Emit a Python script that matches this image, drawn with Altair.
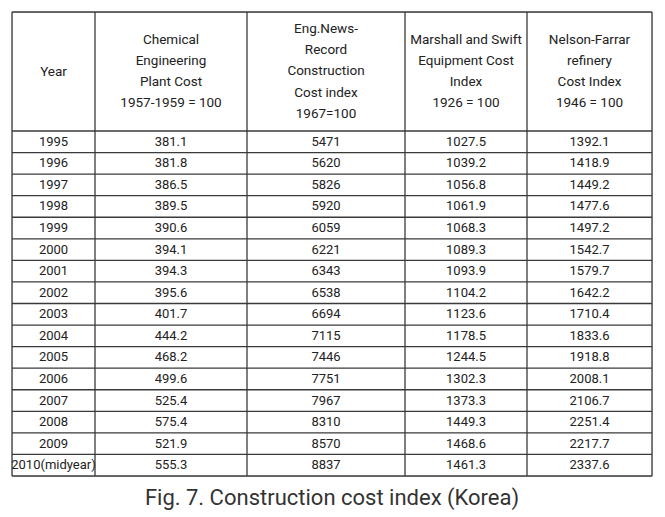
import altair as alt
import pandas as pd

# ---- data ----
headers = [
    "Year",
    "Chemical\nEngineering\nPlant Cost\n1957-1959 = 100",
    "Eng.News-\nRecord\nConstruction\nCost index\n1967=100",
    "Marshall and Swift\nEquipment Cost\nIndex\n1926 = 100",
    "Nelson-Farrar\nrefinery\nCost Index\n1946 = 100",
]
years = ["1995", "1996", "1997", "1998", "1999", "2000", "2001", "2002",
         "2003", "2004", "2005", "2006", "2007", "2008", "2009", "2010(midyear)"]
chem = [381.1, 381.8, 386.5, 389.5, 390.6, 394.1, 394.3, 395.6,
        401.7, 444.2, 468.2, 499.6, 525.4, 575.4, 521.9, 555.3]
enr = [5471, 5620, 5826, 5920, 6059, 6221, 6343, 6538,
       6694, 7115, 7446, 7751, 7967, 8310, 8570, 8837]
marshall = [1027.5, 1039.2, 1056.8, 1061.9, 1068.3, 1089.3, 1093.9, 1104.2,
            1123.6, 1178.5, 1244.5, 1302.3, 1373.3, 1449.3, 1468.6, 1461.3]
nelson = [1392.1, 1418.9, 1449.2, 1477.6, 1497.2, 1542.7, 1579.7, 1642.2,
          1710.4, 1833.6, 1918.8, 2008.1, 2106.7, 2251.4, 2217.7, 2337.6]
caption = "Fig. 7. Construction cost index (Korea)"

# ---- layout ----
col_widths = [83, 152, 158, 122, 125]
header_h = 119
row_h = 21.5625
line_h = 21.3
W = sum(col_widths)
H = header_h + row_h * len(years)

col_edges = [0]
for w in col_widths:
    col_edges.append(col_edges[-1] + w)
row_edges = [0, header_h]
for _ in years:
    row_edges.append(row_edges[-1] + row_h)

# cells
cells = []
for c, h in enumerate(headers):
    n = h.count("\n") + 1
    cells.append({"x": (col_edges[c] + col_edges[c + 1]) / 2,
                  "y": header_h / 2 - (n - 1) * line_h / 2,
                  "t": h, "kind": "header"})
columns = [years,
           [f"{v:.1f}" for v in chem],
           [f"{v:d}" for v in enr],
           [f"{v:.1f}" for v in marshall],
           [f"{v:.1f}" for v in nelson]]
for r in range(len(years)):
    yc = (row_edges[r + 1] + row_edges[r + 2]) / 2
    for c, col in enumerate(columns):
        cells.append({"x": (col_edges[c] + col_edges[c + 1]) / 2,
                      "y": yc, "t": col[r], "kind": "body"})
cells_df = pd.DataFrame(cells)

hlines = pd.DataFrame({"x": 0, "x2": W, "y": row_edges})
vlines = pd.DataFrame({"x": col_edges, "y": 0, "y2": H})

xs = alt.Scale(domain=[0, W], nice=False, zero=False)
ys = alt.Scale(domain=[0, H], nice=False, zero=False, reverse=True)

font = "Roboto"

h_rules = alt.Chart(hlines).mark_rule(color="#3a3a3a", strokeWidth=1.3).encode(
    x=alt.X("x:Q", scale=xs, axis=None),
    x2="x2:Q",
    y=alt.Y("y:Q", scale=ys, axis=None),
)
v_rules = alt.Chart(vlines).mark_rule(color="#3a3a3a", strokeWidth=1.3).encode(
    x=alt.X("x:Q", scale=xs, axis=None),
    y=alt.Y("y:Q", scale=ys, axis=None),
    y2="y2:Q",
)
header_text = alt.Chart(cells_df).transform_filter(
    alt.datum.kind == "header"
).mark_text(font=font, fontSize=13.5, color="#222", lineBreak="\n",
            lineHeight=line_h, align="center", baseline="middle").encode(
    x=alt.X("x:Q", scale=xs, axis=None),
    y=alt.Y("y:Q", scale=ys, axis=None),
    text="t:N",
)
body_text = alt.Chart(cells_df).transform_filter(
    alt.datum.kind == "body"
).mark_text(font=font, fontSize=13, color="#222",
            align="center", baseline="middle").encode(
    x=alt.X("x:Q", scale=xs, axis=None),
    y=alt.Y("y:Q", scale=ys, axis=None),
    text="t:N",
)

chart = alt.layer(h_rules, v_rules, header_text, body_text).properties(
    width=W, height=H,
    autosize="none",
    padding={"left": 4, "top": 4, "right": 5, "bottom": 45},
    title=alt.TitleParams(caption, orient="bottom", anchor="middle",
                          fontSize=22, font="Roboto", fontWeight="normal",
                          color="#333", offset=11),
).configure_view(stroke=None).configure(background="white")

chart.save("out.html", embed_options={"renderer": "svg", "actions": False})
